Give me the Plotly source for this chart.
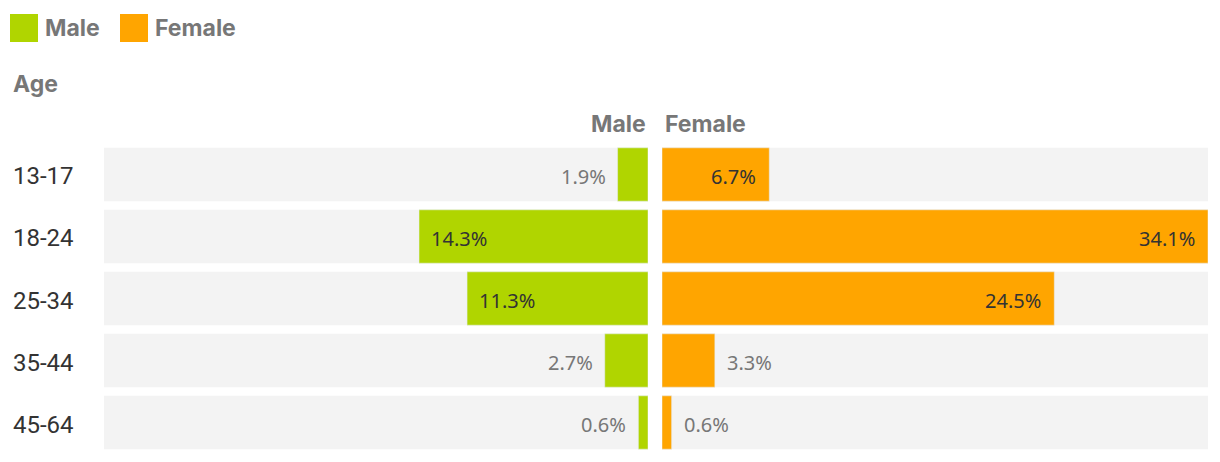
import plotly.graph_objects as go

ages = ["13-17", "18-24", "25-34", "35-44", "45-64"]
male = [1.9, 14.3, 11.3, 2.7, 0.6]
female = [6.7, 34.1, 24.5, 3.3, 0.6]
series_names = ["Male", "Female"]
colors = ["#b0d500", "#ffa500"]

OFF = 8  # page body margin
W, H = 1220 - OFF, 462 - OFF


def px(x):
    return (x - OFF) / W


def py(y):
    return 1 - (y - OFF) / H


LX0, LX1 = 104, 648
RX0, RX1 = 662, 1208
YTOP, YBOT = 143.5, 453.5
vmax = max(male + female)
px_per = (RX1 - RX0) / vmax

fig = go.Figure()
fig.add_trace(go.Bar(y=ages, x=male, orientation="h", marker_color=colors[0],
                     name=series_names[0], xaxis="x", yaxis="y", hoverinfo="x+y"))
fig.add_trace(go.Bar(y=ages, x=female, orientation="h", marker_color=colors[1],
                     name=series_names[1], xaxis="x2", yaxis="y", hoverinfo="x+y"))

shapes = []
annotations = []
font_b = "Inter, Roboto, sans-serif"
font_r = "Noto Sans, Open Sans, sans-serif"
font_age = "Roboto, Inter, sans-serif"

for i, a in enumerate(ages):
    for xr in ("x domain", "x2 domain"):
        shapes.append(dict(type="rect", xref=xr, yref="y", x0=0, x1=1,
                           y0=i - 0.43, y1=i + 0.43, fillcolor="#f3f3f3",
                           line_width=0, layer="below"))
    annotations.append(dict(xref="paper", yref="y", x=px(11), y=a, text=a,
                            showarrow=False, xanchor="left", yanchor="middle",
                            yshift=-2,
                            font=dict(family=font_age, size=24, color="#333")))


def value_label(i, v, axis, side):
    inside = v * px_per > 75
    if inside:
        xanchor = "left" if side == "male" else "right"
        shift = 10 if side == "male" else -11
        col = "#333"
    else:
        xanchor = "right" if side == "male" else "left"
        shift = -10 if side == "male" else 10
        col = "#777"
    return dict(xref=axis, yref="y", x=v, y=i, text=f"{v}%", showarrow=False,
                xanchor=xanchor, yanchor="middle", xshift=shift, yshift=-2,
                font=dict(family=font_r, size=20, color=col))


for i in range(len(ages)):
    annotations.append(value_label(i, male[i], "x", "male"))
    annotations.append(value_label(i, female[i], "x2", "female"))

# headers
annotations.append(dict(xref="paper", yref="paper", x=px(LX1), y=py(124),
                        text="<b>Male</b>", showarrow=False, xanchor="right",
                        yanchor="middle",
                        font=dict(family=font_b, size=23, color="#777")))
annotations.append(dict(xref="paper", yref="paper", x=px(RX0 + 1), y=py(124),
                        text="<b>Female</b>", showarrow=False, xanchor="left",
                        yanchor="middle",
                        font=dict(family=font_b, size=23, color="#777")))
annotations.append(dict(xref="paper", yref="paper", x=px(11), y=py(84),
                        text="<b>Age</b>", showarrow=False, xanchor="left",
                        yanchor="middle",
                        font=dict(family=font_b, size=23, color="#777")))

# legend
leg_x = [10, 120]
for k, name in enumerate(series_names):
    x0 = leg_x[k]
    shapes.append(dict(type="rect", xref="paper", yref="paper",
                       x0=px(x0), x1=px(x0 + 28), y0=py(42), y1=py(14),
                       fillcolor=colors[k], line_width=0))
    annotations.append(dict(xref="paper", yref="paper", x=px(x0 + 33), y=py(28),
                            text=f"<b>{name}</b>", showarrow=False, xanchor="left",
                            yanchor="middle",
                            font=dict(family=font_b, size=23, color="#777")))

fig.update_layout(
    width=W, height=H, margin=dict(l=0, r=0, t=0, b=0),
    paper_bgcolor="white", plot_bgcolor="white",
    barmode="group", bargap=0.14, showlegend=False,
    shapes=shapes, annotations=annotations,
    xaxis=dict(domain=[px(LX0), px(LX1)], range=[(LX1 - LX0) / px_per, 0],
               visible=False, fixedrange=True),
    xaxis2=dict(domain=[px(RX0), px(RX1)], range=[0, vmax], visible=False,
                fixedrange=True),
    yaxis=dict(domain=[py(YBOT), py(YTOP)], range=[len(ages) - 0.5, -0.5],
               visible=False, fixedrange=True),
)
fig.write_html("out.html")
